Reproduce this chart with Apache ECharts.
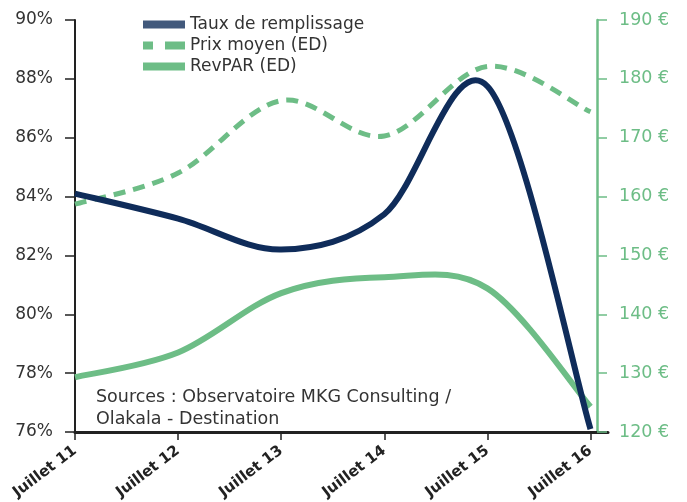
<!DOCTYPE html>
<html>
<head>
<meta charset="utf-8">
<script src="https://cdn.jsdelivr.net/npm/echarts@6/dist/echarts.min.js"></script>
<style>
  html, body { margin: 0; padding: 0; background: #fff; }
  #chart { width: 687px; height: 502px; }
</style>
</head>
<body>
<div id="chart"></div>
<script>
const categories = ['Juillet 11', 'Juillet 12', 'Juillet 13', 'Juillet 14', 'Juillet 15', 'Juillet 16'];
const tauxRemplissage = [84.1, 83.25, 82.2, 83.4, 87.75, 76.1];
const prixMoyen = [158.7, 164, 176.3, 170.3, 182.1, 174.4];
const revpar = [129.3, 133.5, 143.6, 146.3, 144.4, 124.3];
const leftTicks = { min: 76, max: 90, step: 2 };
const rightTicks = { min: 120, max: 190, step: 10 };

const NAVY = '#0f2c5a';
const GREEN = '#6dbd86';
const FONT = 'DejaVu Sans';

const chart = echarts.init(document.getElementById('chart'));

const toPairs = vals => vals.map((v, i) => [i, v]);

// the source chart uses a catmull-rom style curve (peaks can fall between days),
// echarts' own smooth clamps extremes to the points, so draw the path here
const splineSeries = (name, vals, yAxisIndex, style) => ({
  name,
  type: 'custom',
  yAxisIndex,
  data: toPairs(vals),
  renderItem: (params, api) => {
    if (params.dataIndex !== 0) return;
    const p = vals.map((v, i) => api.coord([i, v]));
    const at = i => p[Math.max(0, Math.min(p.length - 1, i))];
    let d = 'M' + p[0][0] + ',' + p[0][1];
    for (let i = 0; i < p.length - 1; i++) {
      const a = at(i - 1), b = at(i), c = at(i + 1), e = at(i + 2);
      const c1 = [b[0] + (c[0] - a[0]) / 6, b[1] + (c[1] - a[1]) / 6];
      const c2 = [c[0] - (e[0] - b[0]) / 6, c[1] - (e[1] - b[1]) / 6];
      d += ' C' + c1.join(',') + ' ' + c2.join(',') + ' ' + c.join(',');
    }
    return {
      type: 'path',
      shape: { pathData: d },
      style: Object.assign({ fill: null }, style)
    };
  },
  itemStyle: { color: style.stroke }
});

const legendItem = (name, icon, color) => ({
  name, icon,
  itemStyle: { color, borderWidth: 0 },
  lineStyle: { width: 0 }
});

chart.setOption({
  animation: false,
  textStyle: { fontFamily: FONT },
  grid: { left: 75, right: 79, top: 20, bottom: 70, outerBoundsMode: 'none' },
  legend: {
    orient: 'vertical',
    left: 138,
    top: 11,
    itemWidth: 42,
    itemHeight: 8,
    itemGap: 4,
    textStyle: { fontSize: 17, color: '#333', fontFamily: FONT },
    data: [
      legendItem('Taux de remplissage', 'rect', '#42597c'),
      legendItem('Prix moyen (ED)', 'path://M0,0h10v8h-10z M22,0h20v8h-20z', GREEN),
      legendItem('RevPAR (ED)', 'rect', GREEN)
    ]
  },
  graphic: [{
    type: 'text',
    left: 96,
    top: 386,
    style: {
      text: 'Sources : Observatoire MKG Consulting /\nOlakala - Destination',
      font: '17.5px ' + FONT,
      fill: '#333',
      lineHeight: 22
    }
  }],
  xAxis: {
    type: 'value',
    min: 0,
    max: 5.17,
    interval: 1,
    splitLine: { show: false },
    axisLine: { lineStyle: { color: '#222', width: 3 } },
    axisTick: { length: 8, lineStyle: { color: '#222', width: 1.5 } },
    axisLabel: {
      rotate: 37,
      margin: 17,
      fontSize: 15,
      fontWeight: 'bold',
      color: '#222',
      showMaxLabel: false,
      formatter: v => (Number.isInteger(v) && categories[v]) ? categories[v] : ''
    }
  },
  yAxis: [{
    type: 'value',
    min: leftTicks.min,
    max: leftTicks.max,
    interval: leftTicks.step,
    splitLine: { show: false },
    axisLine: { show: true, lineStyle: { color: '#222', width: 2 } },
    axisTick: { show: true, length: 10, lineStyle: { color: '#222', width: 1.5 } },
    axisLabel: { fontSize: 17, color: '#333', margin: 22, formatter: '{value}%' }
  }, {
    type: 'value',
    position: 'right',
    offset: -11,
    min: rightTicks.min,
    max: rightTicks.max,
    interval: rightTicks.step,
    splitLine: { show: false },
    axisLine: { show: true, lineStyle: { color: GREEN, width: 2.5 } },
    axisTick: { show: true, length: 10, lineStyle: { color: GREEN, width: 1.5 } },
    axisLabel: { fontSize: 17.5, color: GREEN, margin: 22, formatter: '{value} €' }
  }],
  series: [
    splineSeries('RevPAR (ED)', revpar, 1, { stroke: GREEN, lineWidth: 6 }),
    splineSeries('Prix moyen (ED)', prixMoyen, 1, { stroke: GREEN, lineWidth: 5, lineDash: [12, 8] }),
    splineSeries('Taux de remplissage', tauxRemplissage, 0, { stroke: NAVY, lineWidth: 6 })
  ]
});
</script>
</body>
</html>
